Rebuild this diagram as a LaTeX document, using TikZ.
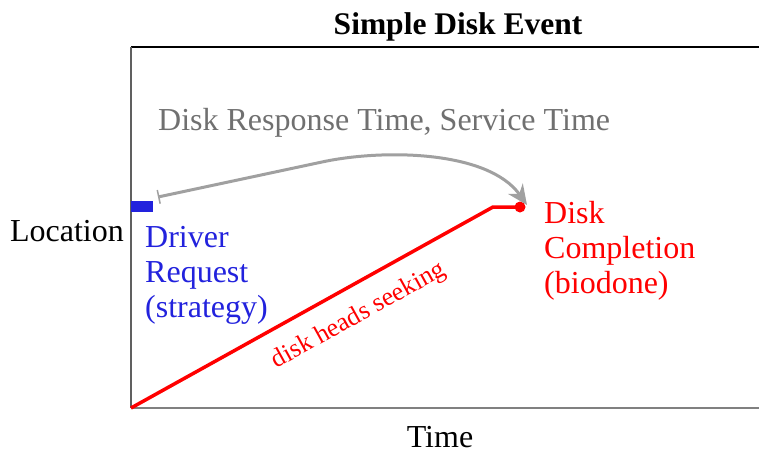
\documentclass[tikz,border=0pt]{standalone}
\usepackage{fontspec}
\setmainfont{Liberation Serif}
\usetikzlibrary{arrows.meta}
\definecolor{drvblue}{RGB}{34,34,221}
\definecolor{txtgray}{RGB}{112,112,112}
\definecolor{arrgray}{RGB}{160,160,160}
\definecolor{axgray}{RGB}{96,96,96}
\tikzset{
  big/.style={font=\fontsize{32}{35}\selectfont, inner sep=0pt},
  multi/.style={big, align=left, anchor=base west},
}
\begin{document}
\begin{tikzpicture}[x=1pt,y=-1pt]
\useasboundingbox (0,0) rectangle (759,450);
% frame
\coordinate (tl) at (131,47);
\coordinate (tr) at (759,47);
\coordinate (bl) at (131,408);
\coordinate (br) at (759,408);
\draw[black, line width=1.5pt] (tl) -- (tr);
\draw[axgray, line width=1.5pt] (tl) -- (bl);
\draw[axgray!80, line width=2pt] (bl) -- (br);
% title and axis labels
\node[big, font=\fontsize{31.5}{36}\selectfont\bfseries, anchor=base] (title) at (458,34) {Simple Disk Event};
\node[big, anchor=base] (loc) at (67,241) {Location};
\node[big, anchor=base] (time) at (440,447) {Time};
% driver request
\node[fill=drvblue, inner sep=0pt, minimum width=22pt, minimum height=11pt, anchor=north west] (req) at (131,201) {};
\node[multi, text=drvblue] (drv) at (145,317) {Driver\\Request\\(strategy)};
% seek line
\coordinate (o) at (131,408);
\coordinate (sk) at (493,207);
\coordinate (done) at (520,207);
\draw[red, line width=3.5pt] (o) -- (sk) -- (done);
\fill[red] (done) circle (5.5pt);
\node[big, font=\fontsize{26}{30}\selectfont, text=red, rotate=29] (seek) at (359,316) {disk heads seeking};
% completion
\node[multi, text=red] (cmp) at (544,293) {Disk\\Completion\\(biodone)};
% response time arrow
\node[big, text=txtgray, anchor=base west] (resp) at (158,130) {Disk Response Time, Service Time};
\coordinate (as) at (158,197);
\coordinate (am) at (322,162);
\coordinate (ae) at (527,205);
\draw[arrgray, line width=3pt, {Bar[width=14pt,line width=1.5pt]}-{Stealth[length=20pt,width=18pt]}]
  (as) -- (am) .. controls (382,149) and (488,150) .. (ae);
\end{tikzpicture}
\end{document}
